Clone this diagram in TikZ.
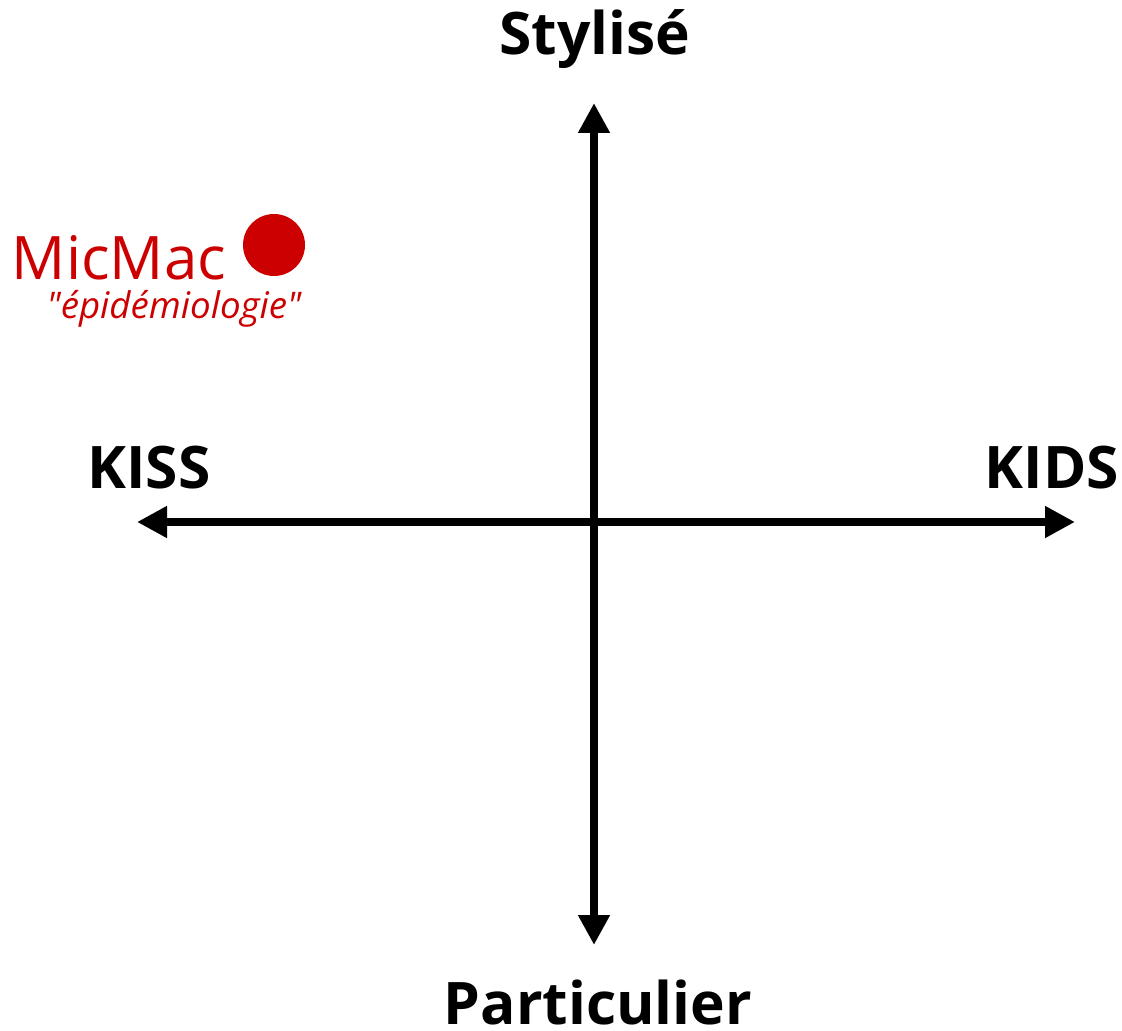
\documentclass[tikz,border=0pt]{standalone}
\usepackage{fontspec}
\setmainfont{Open Sans}
\newfontfamily\plainquotes{Open Sans}[Ligatures=TeXOff]
\usepackage{xcolor}
\usetikzlibrary{arrows.meta, positioning}

\definecolor{micred}{HTML}{CC0000}

\begin{document}
\begin{tikzpicture}[
    x=0.75pt, y=-0.75pt,
    axis/.style={{Triangle[length=22.5pt,width=22.5pt]}-{Triangle[length=22.5pt,width=22.5pt]},
                 line width=6pt},
    pole/.style={anchor=base, inner sep=0pt, font=\bfseries\fontsize{44}{44}\selectfont},
    point/.style={circle, fill=micred, minimum size=46.5pt, inner sep=0pt},
    every node/.style={text=black}
]
    \useasboundingbox (0,0) rectangle (1122,1031);

    % axis ends
    \coordinate (origin) at (594,522);
    \coordinate (west) at (137,522);
    \coordinate (east) at (1075,522);
    \coordinate (north) at (594,103);
    \coordinate (south) at (594,945);

    \draw[axis] (west) -- (east);
    \draw[axis] (north) -- (south);

    % poles
    \node[pole] (stylise) at (595,55) {Stylisé};
    \node[pole] (particulier) at (598,1024) {Particulier};
    \node[pole] (kiss) at (149,488) {KISS};
    \node[pole] (kids) at (1052,488) {KIDS};

    % MicMac
    \node[point] (micmac) at (274,245) {};
    \node[anchor=base, inner sep=0pt, text=micred,
          font=\fontsize{45}{45}\selectfont] (micmaclabel) at (119,279) {MicMac};
    \node[anchor=base, inner sep=0pt, text=micred,
          font=\plainquotes\itshape\fontsize{27.5}{27.5}\selectfont] (epidemio) at (174,318) {"épidémiologie"};
\end{tikzpicture}
\end{document}
